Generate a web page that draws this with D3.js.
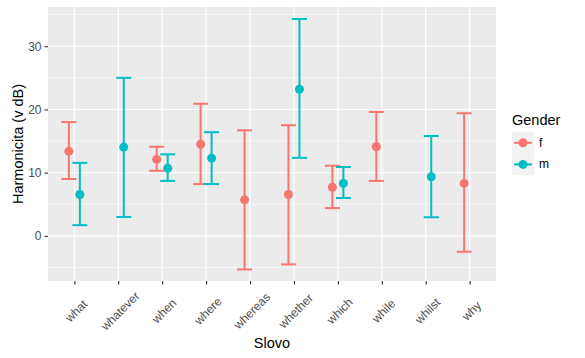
<!DOCTYPE html>
<html>
<head>
<meta charset="utf-8">
<script src="https://cdn.jsdelivr.net/npm/d3@7"></script>
<style>
  body { margin: 0; background: #fff; }
  text { font-family: "Liberation Sans", Arial, sans-serif; }
</style>
</head>
<body>
<div id="chart"></div>
<script>
// values (null = no data for that gender)
var words = ["what", "whatever", "when", "where", "whereas", "whether", "which", "while", "whilst", "why"];
var fMean = [13.4, null, 12.1, 14.5, 5.7, 6.55, 7.7, 14.1, null, 8.3];
var fLow  = [9.0, null, 10.3, 8.2, -5.3, -4.5, 4.4, 8.7, null, -2.5];
var fHigh = [18.0, null, 14.1, 20.9, 16.7, 17.5, 11.1, 19.6, null, 19.4];
var mMean = [6.55, 14.05, 10.7, 12.3, null, 23.2, 8.3, null, 9.35, null];
var mLow  = [1.7, 3.0, 8.7, 8.2, null, 12.35, 6.0, null, 2.95, null];
var mHigh = [11.55, 25.0, 12.9, 16.4, null, 34.3, 10.9, null, 15.8, null];
var yTicks = [0, 10, 20, 30];
var yMinor = [-5, 5, 15, 25, 35];
var genders = ["f", "m"];
var colors = {f: "#F8766D", m: "#00BFC4"};

var W = 585, H = 358;
var margin = {top: 7, right: 89, bottom: 77, left: 48};
var width = W - margin.left - margin.right,
    height = H - margin.top - margin.bottom;

var svg = d3.select("#chart").append("svg")
    .attr("width", W).attr("height", H);
var g = svg.append("g")
    .attr("transform", "translate(" + margin.left + "," + margin.top + ")");

var x = d3.scalePoint().domain(words).range([0, width]).padding(0.6);
var y = d3.scaleLinear().domain([-7.13, 36.2]).range([height, 0]);

// panel
g.append("rect").attr("width", width).attr("height", height).attr("fill", "#EBEBEB");
g.selectAll(".minor").data(yMinor).enter().append("line")
    .attr("x1", 0).attr("x2", width)
    .attr("y1", d => y(d)).attr("y2", d => y(d))
    .attr("stroke", "#fff").attr("stroke-width", 0.55);
g.selectAll(".major").data(yTicks).enter().append("line")
    .attr("x1", 0).attr("x2", width)
    .attr("y1", d => y(d)).attr("y2", d => y(d))
    .attr("stroke", "#fff").attr("stroke-width", 1.1);
g.selectAll(".vgrid").data(words).enter().append("line")
    .attr("x1", d => x(d)).attr("x2", d => x(d))
    .attr("y1", 0).attr("y2", height)
    .attr("stroke", "#fff").attr("stroke-width", 1.1);

// axes
var yAxis = g.append("g").call(d3.axisLeft(y).tickValues(yTicks).tickSize(3.5).tickPadding(3));
var xAxis = g.append("g").attr("transform", "translate(0," + height + ")")
    .call(d3.axisBottom(x).tickSize(3.5).tickFormat(""));
[yAxis, xAxis].forEach(function(a) {
  a.select(".domain").remove();
  a.selectAll(".tick line").attr("stroke", "#333").attr("stroke-width", 1.1);
});
yAxis.selectAll("text").attr("font-size", "12px").attr("fill", "#4D4D4D")
    .style("font-family", "Liberation Sans, Arial, sans-serif");

g.selectAll(".xlab").data(words).enter().append("text")
    .attr("transform", d => "translate(" + (x(d) + 2) + "," + (height + 30) + ") rotate(-45)")
    .attr("text-anchor", "middle").attr("dominant-baseline", "central")
    .attr("font-size", "12px").attr("fill", "#4D4D4D")
    .text(d => d);

// error bars and points
var dodge = 5.5, capW = 15;
genders.forEach(function(gen, gi) {
  var mean = gen === "f" ? fMean : mMean,
      low = gen === "f" ? fLow : mLow,
      high = gen === "f" ? fHigh : mHigh;
  var rows = words.map((w, i) => ({w: w, m: mean[i], lo: low[i], hi: high[i]}))
      .filter(d => d.m !== null);
  var off = gi === 0 ? -dodge : dodge;
  var grp = g.append("g").attr("stroke", colors[gen]).attr("stroke-width", 2).attr("fill", "none");
  rows.forEach(function(d) {
    var cx = x(d.w) + off;
    grp.append("line").attr("x1", cx).attr("x2", cx).attr("y1", y(d.lo)).attr("y2", y(d.hi));
    grp.append("line").attr("x1", cx - capW / 2).attr("x2", cx + capW / 2).attr("y1", y(d.lo)).attr("y2", y(d.lo));
    grp.append("line").attr("x1", cx - capW / 2).attr("x2", cx + capW / 2).attr("y1", y(d.hi)).attr("y2", y(d.hi));
  });
  g.append("g").selectAll("circle").data(rows).enter().append("circle")
      .attr("cx", d => x(d.w) + off).attr("cy", d => y(d.m))
      .attr("r", 4.5).attr("fill", colors[gen]);
});

// axis titles
svg.append("text").attr("x", margin.left + width / 2).attr("y", 348)
    .attr("text-anchor", "middle").attr("font-size", "14.5px").attr("fill", "#000").text("Slovo");
svg.append("text").attr("transform", "translate(18," + (margin.top + height / 2) + ") rotate(-90)")
    .attr("text-anchor", "middle").attr("dominant-baseline", "central")
    .attr("font-size", "14.5px").attr("fill", "#000").text("Harmonicita (v dB)");

// legend
var lg = svg.append("g").attr("transform", "translate(512,110)");
lg.append("text").attr("x", 0).attr("y", 15).attr("font-size", "14.5px").attr("fill", "#000").text("Gender");
genders.forEach(function(gen, i) {
  var ky = 22 + i * 21.6;
  var k = lg.append("g").attr("transform", "translate(0," + ky + ")");
  k.append("rect").attr("width", 22).attr("height", 21.6).attr("fill", "#F2F2F2");
  k.append("line").attr("x1", 2).attr("x2", 20).attr("y1", 10.8).attr("y2", 10.8)
      .attr("stroke", colors[gen]).attr("stroke-width", 2);
  k.append("circle").attr("cx", 11).attr("cy", 10.8).attr("r", 4.5).attr("fill", colors[gen]);
  k.append("text").attr("x", 27).attr("y", 10.8).attr("dominant-baseline", "central")
      .attr("font-size", "12px").attr("fill", "#000").text(gen);
});
</script>
</body>
</html>
